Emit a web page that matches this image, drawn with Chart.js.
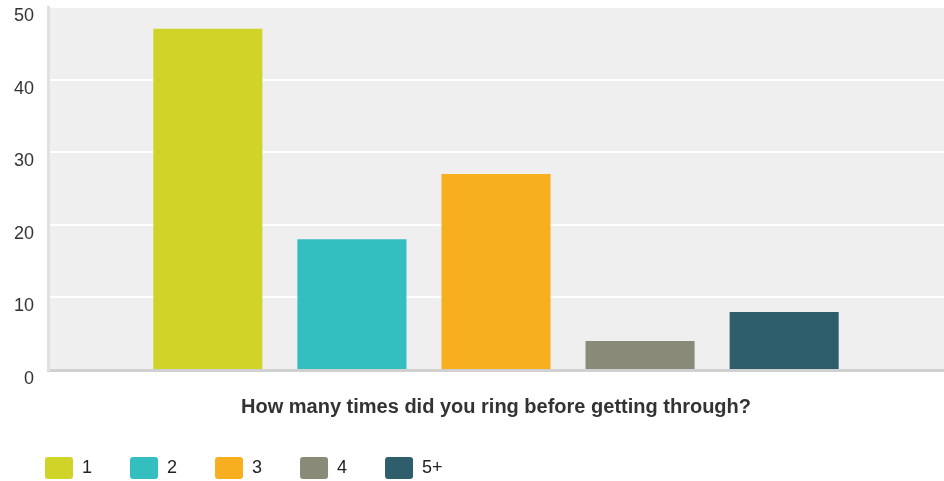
<!DOCTYPE html>
<html>
<head>
<meta charset="utf-8">
<script src="https://cdn.jsdelivr.net/npm/chart.js@4"></script>
<style>
  html, body { margin: 0; padding: 0; background: #ffffff; }
  #wrap { width: 944px; height: 481px; }
</style>
</head>
<body>
<div id="wrap"><canvas id="ringChart"></canvas></div>
<script>
// dados
const answers = ["1", "2", "3", "4", "5+"];
const counts = [47, 18, 27, 4, 8];
const barColors = ["#d0d428", "#33bec0", "#f7ae1f", "#8a8a78", "#2e5e6c"];
const yTicks = [0, 10, 20, 30, 40, 50];
const xTitle = "How many times did you ring before getting through?";

// fundo cinza da área do gráfico
const plotBackground = {
  id: "plotBackground",
  beforeDraw(chart) {
    const { ctx, chartArea } = chart;
    ctx.save();
    ctx.fillStyle = "#efefef";
    ctx.fillRect(chartArea.left, chartArea.top, chartArea.right - chartArea.left, chartArea.bottom - chartArea.top);
    ctx.restore();
  },
};

// a legenda usa o mesmo padding para espaço horizontal e vertical,
// então fixamos a altura dela aqui
const legendHeight = {
  id: "legendHeight",
  beforeInit(chart) {
    const fit = chart.legend.fit;
    chart.legend.fit = function () {
      fit.bind(chart.legend)();
      this.height = 62;
    };
  },
};

function init() {
  const datasets = answers.map((answer, i) => ({
    label: answer,
    data: [counts[i]],
    backgroundColor: barColors[i],
    borderWidth: 0,
    categoryPercentage: 0.804,
    barPercentage: 0.757,
  }));

  const ctx = document.getElementById("ringChart").getContext("2d");
  new Chart(ctx, {
    type: "bar",
    data: {
      labels: [""],
      datasets,
    },
    plugins: [plotBackground, legendHeight],
    options: {
      responsive: true,
      maintainAspectRatio: false,
      animation: false,
      layout: {
        padding: { top: 7, left: 7, right: 0, bottom: 0 },
      },
      scales: {
        x: {
          grid: { display: false, drawTicks: false },
          border: { display: true, color: "#d0d0d0", width: 3 },
          ticks: { display: false },
          title: {
            display: true,
            text: xTitle,
            color: "#333333",
            font: { family: "'Liberation Sans', Arial, sans-serif", size: 20, weight: "bold" },
            padding: { top: 25, bottom: 0 },
          },
        },
        y: {
          min: yTicks[0],
          max: yTicks[yTicks.length - 1],
          afterBuildTicks: (scale) => {
            scale.ticks = yTicks.map((v) => ({ value: v }));
          },
          afterFit: (scale) => {
            scale.width = 41;
            // os rótulos podem passar da área, sem reservar espaço extra
            scale.paddingTop = 0;
            scale.paddingBottom = 0;
          },
          grid: { color: "#ffffff", lineWidth: 2, drawTicks: false },
          border: { display: true, color: "#e0e0e0", width: 3 },
          ticks: {
            color: "#333333",
            padding: 14,
            labelOffset: 9,
            font: { family: "'Liberation Sans', Arial, sans-serif", size: 18 },
          },
        },
      },
      plugins: {
        tooltip: { enabled: false },
        legend: {
          display: true,
          position: "bottom",
          align: "start",
          labels: {
            color: "#222222",
            boxWidth: 28,
            boxHeight: 22,
            padding: 38,
            useBorderRadius: true,
            borderRadius: 3,
            font: { family: "'Liberation Sans', Arial, sans-serif", size: 18 },
          },
        },
      },
    },
  });
}

window.onload = init;
</script>
</body>
</html>
